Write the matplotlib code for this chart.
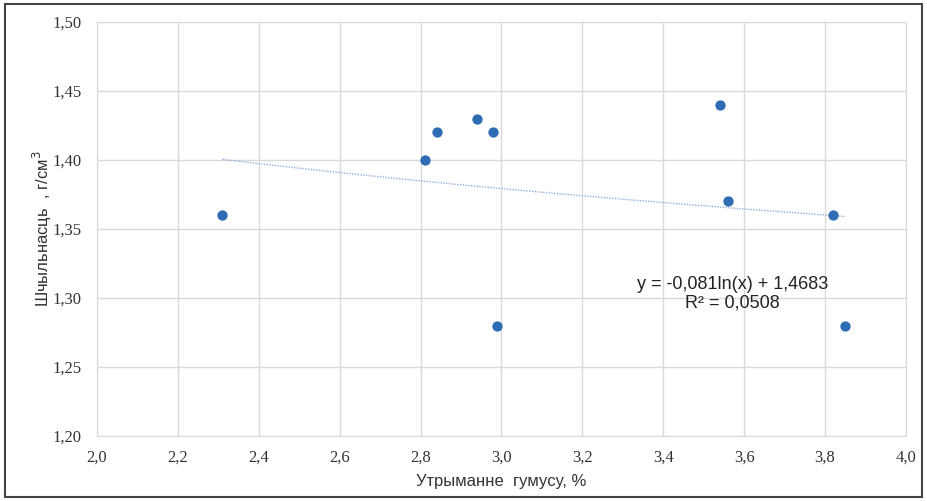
import numpy as np
import matplotlib.pyplot as plt
from matplotlib.ticker import FuncFormatter, MultipleLocator
from matplotlib.patches import Rectangle

# humus content, % and bulk density, g/cm3
humus = [2.31, 2.81, 2.84, 2.94, 2.98, 2.99, 3.54, 3.56, 3.82, 3.85]
density = [1.36, 1.40, 1.42, 1.43, 1.42, 1.28, 1.44, 1.37, 1.36, 1.28]

# logarithmic trend shown on the chart
trend_a = -0.081
trend_b = 1.4683
r2 = 0.0508

fig = plt.figure(figsize=(9.27, 5.01), dpi=100)
ax = fig.add_axes([0.1046, 0.1297, 0.8727, 0.8263])

xt = np.linspace(min(humus), max(humus), 200)
ax.plot(xt, trend_a * np.log(xt) + trend_b, color="#8fb0dc", lw=1.0,
        linestyle=(0, (1, 1)), zorder=2)
ax.scatter(humus, density, s=55, color="#2e6db4", zorder=3, linewidths=0)

ax.set_xlim(2.0, 4.0)
ax.set_ylim(1.20, 1.50)
ax.xaxis.set_major_locator(MultipleLocator(0.2))
ax.yaxis.set_major_locator(MultipleLocator(0.05))
ax.xaxis.set_major_formatter(FuncFormatter(lambda v, p: f"{v:.1f}".replace(".", ",")))
ax.yaxis.set_major_formatter(FuncFormatter(lambda v, p: f"{v:.2f}".replace(".", ",")))
ax.grid(True, color="#d9d9d9", lw=1.0)
ax.set_axisbelow(True)
for s in ax.spines.values():
    s.set_color("#d9d9d9")
ax.tick_params(length=0, colors="#333333", labelsize=12)
ax.tick_params(axis="x", pad=10)
ax.tick_params(axis="y", pad=11)
for lab in ax.get_xticklabels() + ax.get_yticklabels():
    lab.set_family("Liberation Serif")

ax.set_xlabel("Утрыманне  гумусу, %", family="Liberation Sans", fontsize=12,
              color="#333333", labelpad=6)
ax.set_ylabel("Шчыльнасць  , г/см$^3$", family="Liberation Sans", fontsize=12,
              color="#333333", labelpad=-1)

eq = "y = -0,081ln(x) + 1,4683\nR² = 0,0508"
ax.text(3.572, 1.3033, eq, ha="center", va="center", family="Liberation Sans",
        fontsize=13, color="#222222", linespacing=1.1)

fig.patches.append(Rectangle((0.005, 0.008), 0.99, 0.984, transform=fig.transFigure,
                             fill=False, edgecolor="#444444", lw=1.5))

fig.savefig("out.png", dpi=100)
